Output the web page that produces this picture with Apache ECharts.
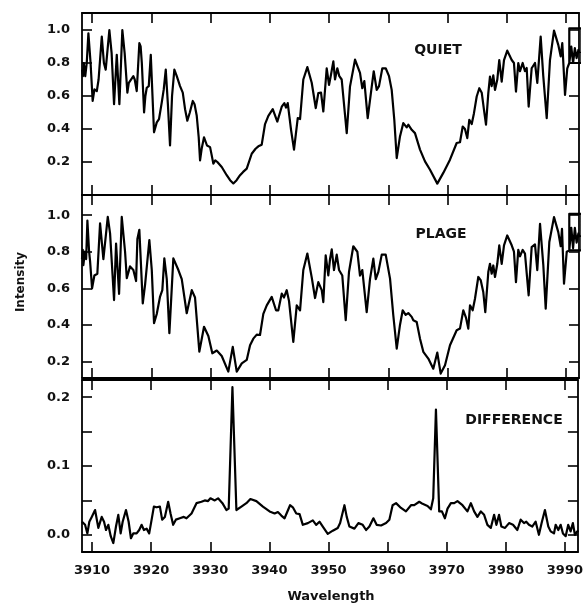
<!DOCTYPE html>
<html>
<head>
<meta charset="utf-8">
<script src="https://cdn.jsdelivr.net/npm/echarts@6/dist/echarts.min.js"></script>
<style>
html,body{margin:0;padding:0;background:#fff;}
#chart{width:586px;height:605px;}
</style>
</head>
<body>
<div id="chart"></div>
<script>
// ---------- DATA ----------
const xTicks = [3910, 3920, 3930, 3940, 3950, 3960, 3970, 3980, 3990];
const intensityTicks = [0.2, 0.4, 0.6, 0.8, 1.0];
const diffTicks = [0.0, 0.05, 0.1, 0.15, 0.2];
const diffLabels = [0.0, 0.1, 0.2];
const panelNames = ['QUIET', 'PLAGE', 'DIFFERENCE'];

const quietWl = [3908.3,3908.45,3908.6,3908.85,3909.1,3909.38,3909.75,3910.1,3910.4,3910.8,3911.1,3911.64,3912.0,3912.3,3912.92,3913.3,3913.71,3914.17,3914.61,3915.11,3915.5,3915.96,3916.2,3916.5,3916.97,3917.2,3917.54,3917.98,3918.2,3918.4,3918.78,3919.0,3919.23,3919.57,3919.91,3920.2,3920.46,3920.92,3921.3,3921.76,3922.1,3922.44,3922.8,3923.16,3923.5,3923.89,3924.3,3924.85,3925.31,3925.7,3926.08,3926.5,3927.0,3927.3,3927.67,3928.0,3928.23,3928.5,3928.9,3929.4,3929.92,3930.2,3930.47,3930.8,3931.15,3931.89,3932.73,3933.3,3933.85,3934.4,3934.98,3935.5,3936.11,3936.95,3937.6,3938.07,3938.64,3939.2,3939.76,3940.5,3941.27,3942.02,3942.46,3942.74,3943.03,3943.59,3944.09,3944.72,3945.11,3945.66,3946.34,3947.08,3947.76,3948.19,3948.65,3949.04,3949.61,3950.0,3950.34,3950.73,3951.01,3951.4,3951.74,3952.14,3952.99,3953.54,3954.39,3955.23,3955.62,3955.96,3956.53,3957.21,3957.55,3958.05,3958.44,3959.0,3959.57,3960.13,3960.58,3961.02,3961.43,3961.98,3962.54,3963.11,3963.38,3963.96,3964.51,3964.8,3965.36,3966.2,3967.05,3968.28,3969.29,3970.42,3971.55,3972.11,3972.57,3972.95,3973.34,3973.68,3974.09,3974.47,3974.93,3975.37,3975.78,3976.16,3976.5,3976.89,3977.17,3977.46,3977.73,3978.02,3978.41,3978.74,3979.15,3979.54,3980.09,3980.84,3981.22,3981.56,3981.95,3982.24,3982.69,3983.08,3983.37,3983.7,3984.21,3984.77,3985.16,3985.73,3986.17,3986.75,3987.3,3987.98,3988.7,3989.11,3989.38,3989.84,3990.22,3990.56,3990.56,3992.6,3992.6,3990.56,3990.9,3991.2,3991.5,3991.8,3992.1,3992.3];
const quietI = [0.76,0.72,0.80,0.72,0.80,0.98,0.80,0.57,0.64,0.63,0.70,0.96,0.80,0.76,1.00,0.86,0.55,0.85,0.55,1.00,0.86,0.62,0.68,0.67,0.72,0.70,0.63,0.92,0.90,0.80,0.50,0.60,0.65,0.66,0.85,0.60,0.38,0.44,0.46,0.56,0.64,0.76,0.55,0.30,0.60,0.76,0.72,0.66,0.62,0.52,0.45,0.50,0.57,0.55,0.48,0.35,0.21,0.28,0.35,0.30,0.29,0.24,0.19,0.21,0.20,0.17,0.12,0.09,0.07,0.09,0.12,0.14,0.16,0.25,0.28,0.295,0.305,0.43,0.48,0.52,0.445,0.535,0.557,0.53,0.557,0.395,0.275,0.466,0.46,0.70,0.775,0.68,0.527,0.617,0.62,0.506,0.768,0.667,0.73,0.81,0.70,0.768,0.72,0.70,0.375,0.657,0.82,0.74,0.647,0.69,0.466,0.657,0.75,0.637,0.66,0.768,0.768,0.72,0.637,0.456,0.224,0.355,0.436,0.41,0.426,0.395,0.375,0.365,0.275,0.204,0.153,0.069,0.134,0.214,0.315,0.32,0.415,0.40,0.345,0.456,0.43,0.496,0.597,0.647,0.62,0.516,0.426,0.617,0.718,0.66,0.725,0.637,0.70,0.818,0.687,0.818,0.875,0.818,0.80,0.627,0.80,0.75,0.80,0.75,0.77,0.536,0.768,0.80,0.68,0.96,0.72,0.466,0.818,0.996,0.91,0.84,0.92,0.607,0.768,0.80,1.01,1.01,0.80,0.80,0.90,0.80,0.89,0.83,0.88,0.86];

const plageWl = [3908.3,3908.43,3908.53,3908.8,3909.0,3909.21,3909.5,3909.66,3910.0,3910.39,3910.89,3911.35,3911.91,3912.65,3913.04,3913.71,3914.05,3914.56,3915.01,3915.57,3915.86,3916.41,3916.97,3917.43,3917.65,3917.98,3918.56,3918.95,3919.23,3919.67,3920.08,3920.46,3920.92,3921.48,3921.86,3922.2,3922.61,3923.05,3923.72,3924.57,3925.14,3925.98,3926.83,3927.38,3928.11,3928.9,3929.63,3930.3,3931.05,3931.89,3933.0,3933.75,3934.42,3935.27,3936.11,3936.67,3937.22,3937.8,3938.35,3938.91,3939.49,3940.33,3941.05,3941.44,3942.02,3942.4,3942.86,3943.25,3943.97,3944.55,3945.11,3945.66,3946.34,3947.08,3947.64,3948.19,3948.77,3949.04,3949.44,3949.88,3950.17,3950.46,3950.84,3951.3,3951.69,3952.24,3952.82,3953.37,3954.1,3954.78,3955.23,3955.62,3956.36,3956.92,3957.48,3957.89,3958.33,3958.9,3959.57,3960.3,3960.85,3961.43,3961.98,3962.44,3962.94,3963.38,3963.96,3964.23,3964.8,3965.36,3965.92,3966.76,3967.6,3968.28,3968.85,3969.58,3970.42,3971.55,3972.11,3972.67,3973.12,3973.51,3973.8,3974.25,3974.64,3975.2,3975.6,3976.04,3976.38,3976.89,3977.17,3977.46,3977.73,3978.02,3978.41,3978.74,3979.15,3979.54,3980.09,3980.84,3981.22,3981.56,3981.95,3982.24,3982.69,3983.08,3983.37,3983.7,3984.21,3984.77,3985.16,3985.62,3986.17,3986.58,3987.19,3987.98,3988.7,3989.11,3989.33,3989.67,3990.13,3990.56,3990.56,3992.6,3992.6,3990.56,3990.9,3991.2,3991.5,3991.8,3992.1,3992.3];
const plageI = [0.76,0.81,0.727,0.80,0.76,0.97,0.80,0.75,0.60,0.67,0.68,0.955,0.76,0.99,0.90,0.536,0.845,0.57,0.99,0.80,0.655,0.72,0.70,0.64,0.87,0.92,0.518,0.62,0.61,0.864,0.70,0.41,0.46,0.555,0.59,0.764,0.65,0.355,0.764,0.70,0.65,0.464,0.59,0.55,0.254,0.39,0.34,0.245,0.26,0.23,0.145,0.28,0.145,0.19,0.209,0.289,0.325,0.347,0.345,0.46,0.507,0.553,0.48,0.48,0.571,0.55,0.59,0.53,0.307,0.507,0.48,0.70,0.79,0.66,0.547,0.634,0.59,0.525,0.78,0.671,0.76,0.813,0.70,0.784,0.70,0.67,0.426,0.689,0.83,0.80,0.67,0.70,0.47,0.65,0.762,0.65,0.69,0.784,0.784,0.653,0.453,0.27,0.40,0.48,0.455,0.465,0.444,0.426,0.416,0.325,0.253,0.216,0.161,0.249,0.134,0.18,0.289,0.371,0.38,0.48,0.44,0.38,0.507,0.48,0.543,0.662,0.645,0.58,0.47,0.689,0.734,0.68,0.725,0.662,0.734,0.835,0.734,0.835,0.889,0.835,0.80,0.634,0.81,0.775,0.81,0.79,0.80,0.562,0.825,0.84,0.70,0.953,0.73,0.489,0.853,0.989,0.907,0.83,0.925,0.625,0.80,0.807,1.007,1.007,0.807,0.807,0.93,0.82,0.93,0.85,0.90,0.88];

const diffWl = [3908.3,3908.82,3909.21,3909.54,3909.95,3910.51,3911.06,3911.64,3912.03,3912.36,3912.75,3913.16,3913.6,3914.05,3914.44,3914.84,3915.18,3915.74,3916.19,3916.58,3916.97,3917.54,3917.98,3918.39,3918.78,3919.23,3919.67,3920.08,3920.46,3920.92,3921.48,3921.86,3922.32,3922.88,3923.28,3923.72,3924.18,3924.85,3925.53,3925.98,3926.83,3927.67,3928.51,3929.07,3929.63,3930.03,3930.76,3931.32,3932.06,3932.73,3933.12,3933.75,3934.42,3935.27,3936.11,3936.79,3937.8,3938.91,3940.04,3940.89,3941.44,3942.02,3942.57,3943.5,3943.97,3944.55,3945.11,3945.66,3946.51,3947.35,3947.92,3948.48,3949.04,3949.88,3950.73,3951.57,3951.97,3952.7,3953.09,3953.54,3954.39,3955.06,3955.79,3956.36,3956.92,3957.6,3958.15,3958.9,3959.74,3960.3,3960.85,3961.43,3962.27,3963.11,3963.96,3964.51,3965.36,3965.92,3966.76,3967.33,3967.72,3968.18,3968.73,3969.19,3969.7,3970.14,3970.71,3971.27,3971.82,3972.67,3973.51,3974.09,3974.64,3975.2,3975.78,3976.33,3976.89,3977.46,3978.02,3978.41,3978.86,3979.25,3979.87,3980.55,3981.22,3981.95,3982.52,3983.08,3983.46,3983.92,3984.47,3985.05,3985.6,3986.06,3986.62,3987.19,3987.59,3988.15,3988.44,3988.88,3989.28,3989.67,3990.13,3990.56,3990.96,3991.35,3991.69,3992.08,3992.3];
const diffD = [0.019,0.0145,0.002,0.019,0.026,0.036,0.010,0.026,0.019,0.007,0.0145,-0.002,-0.012,0.012,0.029,0.002,0.019,0.036,0.019,-0.005,0.002,0.002,0.007,0.0145,0.007,0.009,0.002,0.022,0.041,0.040,0.041,0.022,0.026,0.048,0.031,0.0145,0.022,0.024,0.026,0.024,0.031,0.046,0.048,0.050,0.049,0.053,0.050,0.053,0.046,0.036,0.038,0.2145,0.036,0.041,0.046,0.052,0.049,0.041,0.034,0.031,0.033,0.028,0.024,0.043,0.040,0.031,0.030,0.0145,0.017,0.021,0.0145,0.019,0.012,0.0014,0.006,0.010,0.017,0.043,0.026,0.012,0.009,0.017,0.0145,0.007,0.012,0.024,0.0145,0.0135,0.017,0.022,0.043,0.046,0.039,0.034,0.043,0.043,0.048,0.045,0.042,0.037,0.053,0.182,0.034,0.034,0.024,0.038,0.046,0.046,0.049,0.043,0.034,0.046,0.034,0.026,0.034,0.029,0.0145,0.010,0.029,0.0145,0.029,0.012,0.010,0.017,0.0145,0.007,0.022,0.017,0.019,0.0145,0.012,0.019,0.0,0.017,0.036,0.012,0.005,0.002,0.0145,0.007,0.0145,0.002,-0.002,0.0145,0.005,0.017,0.0,0.005,0.006];

// ---------- CHART ----------
const XMIN = 3908.3, XMAX = 3992.2;
const FONT = 'DejaVu Sans';
const pairs = (xs, ys) => xs.map((x, i) => [x, ys[i]]);

const grids = [
  {left: 82, right: 7, top: 13, height: 182},
  {left: 82, right: 7, top: 195, height: 183},
  {left: 82, right: 7, top: 380, height: 172}
];
const yRanges = [[0.0, 1.103], [0.11, 1.11], [-0.025, 0.225]];

const lineStyle = {color: '#000', width: 1.8};
const tickStyle = {inside: true, length: 10, lineStyle: {color: '#000', width: 1.6}};

const xAxes = [], yAxes = [];
grids.forEach((g, i) => {
  ['bottom', 'top'].forEach(pos => {
    xAxes.push({
      type: 'value', gridIndex: i, position: pos, min: XMIN, max: XMAX,
      axisLine: {show: true, onZero: false, lineStyle: lineStyle},
      axisTick: Object.assign({customValues: xTicks}, tickStyle),
      axisLabel: (i === 2 && pos === 'bottom') ? {
        show: true, customValues: xTicks, color: '#111', fontFamily: FONT, fontWeight: 'bold', fontSize: 13, margin: 12,
        formatter: v => String(Math.round(v))
      } : {show: false},
      splitLine: {show: false}
    });
  });
  const ticks = i === 2 ? diffTicks : intensityTicks;
  const labels = i === 2 ? diffLabels : intensityTicks;
  ['left', 'right'].forEach(pos => {
    yAxes.push({
      type: 'value', gridIndex: i, position: pos, min: yRanges[i][0], max: yRanges[i][1],
      axisLine: {show: true, onZero: false, lineStyle: lineStyle},
      axisTick: Object.assign({customValues: ticks}, tickStyle),
      axisLabel: pos === 'left' ? {
        show: true, customValues: labels, color: '#111', fontFamily: FONT, fontWeight: 'bold', fontSize: 13, margin: 12,
        formatter: v => v.toFixed(1)
      } : {show: false},
      splitLine: {show: false}
    });
  });
});

const seriesData = [pairs(quietWl, quietI), pairs(plageWl, plageI), pairs(diffWl, diffD)];
const series = seriesData.map((d, i) => ({
  type: 'line', xAxisIndex: i * 2, yAxisIndex: i * 2, data: d,
  showSymbol: false, symbol: 'none', clip: true, animation: false,
  lineStyle: {color: '#000', width: 2.2, join: 'round'}
}));

const labelPos = [[438, 50], [441, 234], [514, 420]];
const graphic = panelNames.map((t, i) => ({
  type: 'text', x: labelPos[i][0], y: labelPos[i][1],
  style: {text: t, fill: '#111', font: 'bold 14px "' + FONT + '"', textAlign: 'center', textVerticalAlign: 'middle'}
}));
graphic.push({
  type: 'text', x: 21, y: 282, rotation: Math.PI / 2,
  style: {text: 'Intensity', fill: '#111', font: 'bold 12px "' + FONT + '"', textAlign: 'center', textVerticalAlign: 'middle'}
});
graphic.push({
  type: 'text', x: 331, y: 597,
  style: {text: 'Wavelength', fill: '#111', font: 'bold 13px "' + FONT + '"', textAlign: 'center', textVerticalAlign: 'middle'}
});

const chart = echarts.init(document.getElementById('chart'), null, {renderer: 'canvas'});
chart.setOption({
  animation: false,
  backgroundColor: '#fff',
  grid: grids,
  xAxis: xAxes,
  yAxis: yAxes,
  series: series,
  graphic: graphic
});
</script>
</body>
</html>
